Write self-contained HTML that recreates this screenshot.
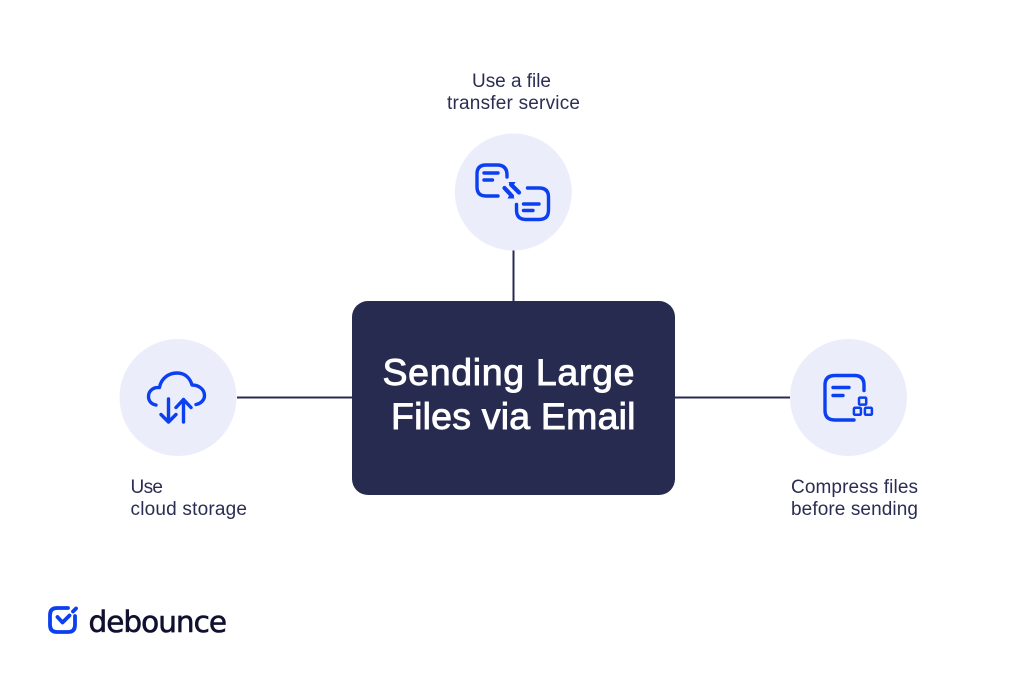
<!DOCTYPE html>
<html>
<head>
<meta charset="utf-8">
<style>
html,body{margin:0;padding:0;background:#fff}
svg{display:block}
text{font-family:"Liberation Sans",sans-serif}
.l{font-size:19px;fill:#2b2e52}
.t{font-size:37.500px;fill:#fff;stroke:#fff;stroke-width:.9px}
.i{fill:none;stroke:#0b3ff0;stroke-width:3.400;stroke-linecap:round;stroke-linejoin:round}
</style>
</head>
<body>
<svg width="1024" height="683" viewBox="0 0 1024 683" xmlns="http://www.w3.org/2000/svg">
<rect width="1024" height="683" fill="#fff"/>
<path d="M513.500 250V301M237 397.500H352M675 397.500H790" stroke="#282b50" stroke-width="2" fill="none"/>
<circle cx="513.300" cy="192" r="58.500" fill="#ebeefa"/>
<circle cx="178" cy="397.500" r="58.500" fill="#ebeefa"/>
<circle cx="848.500" cy="397.500" r="58.500" fill="#ebeefa"/>
<rect x="352" y="301" width="323" height="194" rx="16" fill="#282b50"/>
<text class="t" x="382.500" y="385" textLength="252" lengthAdjust="spacing">Sending Large</text>
<text class="t" x="391" y="429" textLength="244.500" lengthAdjust="spacing">Files via Email</text>
<text class="l" x="472" y="87" textLength="79" lengthAdjust="spacing">Use a file</text>
<text class="l" x="447" y="109" textLength="133" lengthAdjust="spacing">transfer service</text>
<text class="l" x="130.500" y="493" textLength="32.500" lengthAdjust="spacing">Use</text>
<text class="l" x="130.500" y="515" textLength="116.500" lengthAdjust="spacing">cloud storage</text>
<text class="l" x="791" y="493" textLength="127" lengthAdjust="spacing">Compress files</text>
<text class="l" x="791" y="515" textLength="127" lengthAdjust="spacing">before sending</text>

<!-- transfer icon -->
<g class="i">
<path d="M498 196H486Q477 196 477 187V174Q477 165 486 165H497Q507 165 507 175V177"/>
<path d="M484 173H498M484 180H492.500"/>
<path d="M527.500 188H539Q548.500 188 548.500 197V210Q548.500 219.500 539 219.500H526Q516.500 219.500 516.500 210V204.500"/>
<path d="M523.500 204H539M523.500 210.500H533"/>
<path d="M504.500 188L512 196" stroke-width="4.200"/>
<path d="M519 192.500L511 184.500" stroke-width="4.200"/>
</g>
<path d="M514.500 198.500H507.500L511 192.500Z" fill="#0b3ff0"/>
<path d="M508.500 182H515.500L512 188Z" fill="#0b3ff0"/>

<!-- cloud icon -->
<g class="i">
<path d="M156 405C151 404 148.500 400.500 148.500 396.500C148.500 391 153 387 159.500 387.500C161 379 168 373 177 373C185 373 190 378 192 385C199 385 204.500 389.500 204.500 395.500C204.500 400 201 403.500 196 404.500"/>
<path d="M168.500 399V422M161 414.500L168.500 422L176 414.500"/>
<path d="M183.500 422V399.500M176 407.500L183.500 399.500L191 407.500"/>
</g>

<!-- compress icon -->
<g class="i">
<path d="M864 390.500V385Q864 375.500 854.500 375.500H835Q825 375.500 825 385V410.500Q825 420 835 420H854"/>
<path d="M833 387.500H849M833 395.500H843"/>
<g stroke-width="2.500">
<rect x="859" y="397.600" width="7.200" height="7" rx="1"/>
<rect x="853.900" y="407.800" width="7" height="7" rx="1"/>
<rect x="864.900" y="407.800" width="7" height="7" rx="1"/>
</g>
</g>

<!-- logo -->
<g fill="none" stroke="#0b3ff0" stroke-width="3.800" stroke-linecap="round" stroke-linejoin="round">
<path d="M68 608H57Q50 608 50 615V625Q50 632 57 632H68Q75 632 75 625V616"/>
<path d="M57.500 617L62.500 622.500L69.500 615.500"/>
<path d="M73 611.500L76 608.500"/>
</g>
<text x="88.500" y="632" font-size="29.500" style='font-family:"DejaVu Sans",sans-serif' fill="#10112e" stroke="#10112e" stroke-width=".6" textLength="138.500" lengthAdjust="spacing">debounce</text>
</svg>
</body>
</html>
